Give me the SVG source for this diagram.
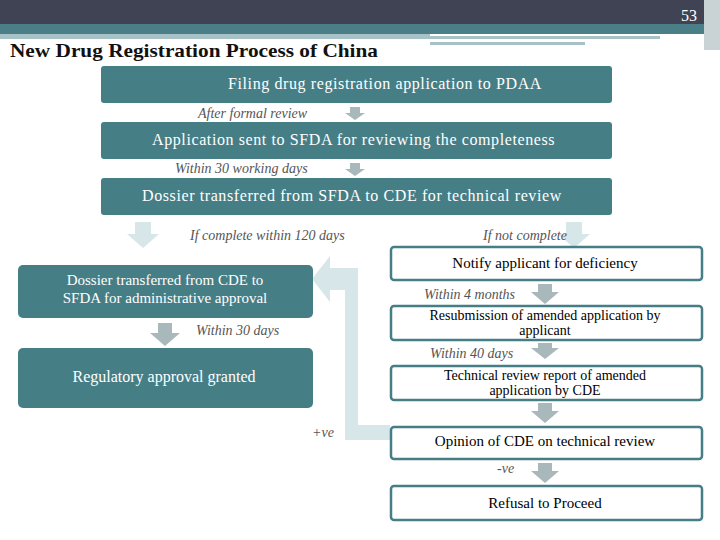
<svg xmlns="http://www.w3.org/2000/svg" width="720" height="540" viewBox="0 0 720 540">
<style>
.t{fill:#fff;font-family:"Liberation Serif",serif;font-size:16px;letter-spacing:0.6px;text-anchor:middle}
.b{fill:#000;font-family:"Liberation Serif",serif;font-size:15px;text-anchor:middle}
.s{font-size:14px}
.i{fill:#555;font-family:"Liberation Serif",serif;font-size:14px;font-style:italic}
.tb{fill:#467e86}
.wb{fill:#fff;stroke:#467e86;stroke-width:2.5}
.ga{fill:#a9b8ba}
.la{fill:#d6e6e9}
</style>
<rect x="0" y="0" width="720" height="24" fill="#3f4354"/>
<rect x="0" y="24" width="720" height="10" fill="#4a7f87"/>
<rect x="0" y="34" width="430" height="5" fill="#a7c1c6"/>
<rect x="430" y="36" width="230" height="3" fill="#a7c1c6"/>
<rect x="430" y="42" width="155" height="3" fill="#a7c1c6"/>
<rect x="704" y="0" width="16" height="50" fill="#c9d3d6"/>
<text x="697" y="21" font-family="Liberation Serif,serif" font-size="16" fill="#fff" text-anchor="end">53</text>
<text x="10" y="57" font-family="Liberation Serif,serif" font-size="19" font-weight="bold" fill="#111" textLength="368" lengthAdjust="spacingAndGlyphs">New Drug Registration Process of China</text>
<g id="connectors">
<path class="ga" d="M350 107h10v6h5l-10 7-10-7h5z"/>
<path class="ga" d="M350 163h10v6h5l-10 7-10-7h5z"/>
<path class="la" d="M135 222h16v12h8l-16 14-16-14h8z"/>
<path class="la" d="M566 222h16v12h8l-16 14-16-14h8z"/>
<path class="ga" d="M158 323h14v10h8l-15 13-15-13h8z"/>
<path class="ga" d="M538 284h14v8h7l-14 12-14-12h7z"/>
<path class="ga" d="M538 343h14v5h7l-14 11-14-11h7z"/>
<path class="ga" d="M538 403h14v8h7l-14 12-14-12h7z"/>
<path class="ga" d="M538 463h14v8h7l-14 12-14-12h7z"/>
<path class="la" d="M390 425v15h-45v-150h-15v12l-18-23 18-23v12h28v157h32z"/>
</g>
<g id="n1"><rect class="tb" x="101" y="66" width="511" height="37" rx="3"/><text class="t" x="385" y="89">Filing drug registration application to PDAA</text></g>
<text class="i" x="198" y="118">After formal review</text>
<g id="n2"><rect class="tb" x="101" y="122" width="511" height="37" rx="3"/><text class="t" x="152" y="145" style="text-anchor:start">Application sent to SFDA for reviewing the completeness</text></g>
<text class="i" x="175" y="173">Within 30 working days</text>
<g id="n3"><rect class="tb" x="101" y="178" width="511" height="37" rx="3"/><text class="t" x="142" y="201" style="text-anchor:start">Dossier transferred from SFDA to CDE for technical review</text></g>
<text class="i" x="190" y="240">If complete within 120 days</text>
<text class="i" x="483" y="240">If not complete</text>
<g id="n4"><rect class="tb" x="18" y="265" width="295" height="53" rx="5"/><text class="t" x="165" y="285" style="letter-spacing:0;font-size:15px">Dossier transferred from CDE to</text><text class="t" x="165" y="303" style="letter-spacing:0;font-size:15px">SFDA for administrative approval</text></g>
<text class="i" x="196" y="335">Within 30 days</text>
<g id="n5"><rect class="tb" x="18" y="348" width="295" height="60" rx="5"/><text class="t" x="164" y="382" style="letter-spacing:0">Regulatory approval granted</text></g>
<g id="n6"><rect class="wb" x="391" y="247" width="311" height="33" rx="3"/><text class="b" x="545" y="268">Notify applicant for deficiency</text></g>
<text class="i" x="424" y="299">Within 4 months</text>
<g id="n7"><rect class="wb" x="391" y="306" width="311" height="34" rx="3"/><text class="b s" x="545" y="320">Resubmission of amended application by</text><text class="b s" x="545" y="335">applicant</text></g>
<text class="i" x="430" y="358">Within 40 days</text>
<g id="n8"><rect class="wb" x="391" y="366" width="311" height="34" rx="3"/><text class="b s" x="545" y="380">Technical review report of amended</text><text class="b s" x="545" y="395">application by CDE</text></g>
<text class="i" x="312" y="437">+ve</text>
<g id="n9"><rect class="wb" x="391" y="427" width="311" height="32" rx="3"/><text class="b" x="545" y="446">Opinion of CDE on technical review</text></g>
<text class="i" x="497" y="473">-ve</text>
<g id="n10"><rect class="wb" x="391" y="486" width="311" height="34" rx="3"/><text class="b" x="545" y="508">Refusal to Proceed</text></g>
</svg>
